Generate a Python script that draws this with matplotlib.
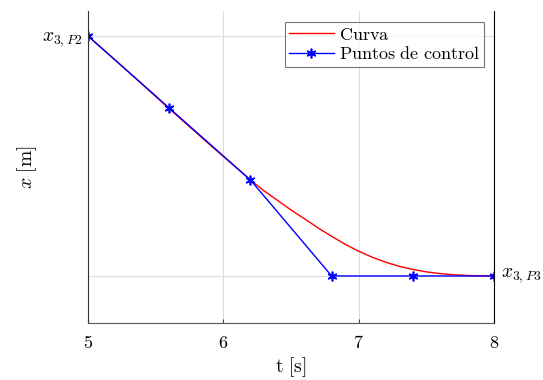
import matplotlib
matplotlib.use("Agg")
import matplotlib.pyplot as plt

plt.rcParams['mathtext.fontset'] = 'cm'
plt.rcParams['font.family'] = 'serif'
plt.rcParams['font.serif'] = ['DejaVu Serif']

# puntos de control
t_ctrl = [5.0, 5.6, 6.2, 6.8, 7.4, 8.0]
x_ctrl = [1.0, 0.7, 0.4, 0.0, 0.0, 0.0]

# curva
t_curva = [5.0, 5.3, 5.6, 5.9, 6.2, 6.3, 6.4, 6.5, 6.6, 6.7, 6.8, 6.9, 7.0,
           7.1, 7.2, 7.3, 7.4, 7.5, 7.6, 7.7, 7.8, 7.9, 8.0]
x_curva = [1.0, 0.85, 0.697, 0.547, 0.400, 0.355, 0.315, 0.275, 0.238, 0.200,
           0.165, 0.132, 0.103, 0.078, 0.057, 0.040, 0.027, 0.017, 0.010,
           0.005, 0.002, 0.0005, 0.0]

xticks = [5, 6, 7, 8]

fig = plt.figure(figsize=(5.43, 3.8), dpi=100)
ax = fig.add_axes([0.162, 0.150, 0.748, 0.821])

ax.plot(t_curva, x_curva, color='red', lw=1, label=r'$\mathrm{Curva}$')
ax.plot(t_ctrl, x_ctrl, color='blue', lw=1, marker=(6, 2, 0), markersize=7,
        mew=1.2, label=r'$\mathrm{Puntos\ de\ control}$')

ax.set_xlim(5, 8)
ax.set_ylim(-0.196, 1.104)
ax.set_xticks(xticks)
ax.set_xticklabels(['$%d$' % v for v in xticks], fontsize=13)
ax.set_yticks([0, 1])
ax.set_yticklabels(['', r'$x_{3,P2}$'], fontsize=14)
ax.text(8.05, 0, r'$x_{3,P3}$', fontsize=14, va='center', ha='left')

ax.grid(True, color='#dddddd', lw=0.8)
ax.tick_params(direction='in', length=3, color='#444444', pad=8)
ax.tick_params(axis='y', length=0, pad=4)

ax.spines['top'].set_visible(False)
ax.spines['left'].set_color('#333333')
ax.spines['bottom'].set_color('#555555')
ax.spines['right'].set_color('black')

ax.set_xlabel(r'$\mathrm{t\ [s]}$', fontsize=14, labelpad=2)
ax.set_ylabel(r'$x\ \mathrm{[m]}$', fontsize=14, labelpad=2)

leg = ax.legend(loc='upper right', bbox_to_anchor=(0.975, 0.965), fontsize=13,
                frameon=True, fancybox=False, edgecolor='#555555',
                borderpad=0.2, handlelength=2.5, handletextpad=0.3,
                labelspacing=0.1, borderaxespad=0)
leg.get_frame().set_linewidth(0.8)

fig.savefig('out.png', dpi=100)
